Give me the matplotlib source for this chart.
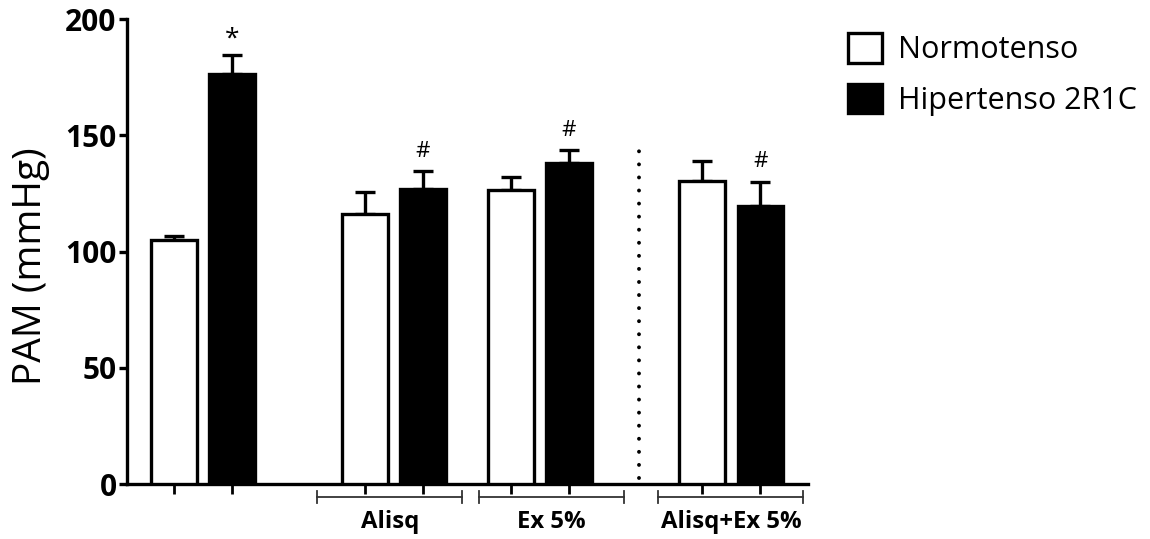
import matplotlib.pyplot as plt
import numpy as np

plt.rcParams['font.family'] = ['Open Sans', 'DejaVu Sans']

# mean arterial pressure per group
groups = ['', 'Alisq', 'Ex 5%', 'Alisq+Ex 5%']
normo = [105, 116, 126.5, 130.5]
normo_err = [1.5, 9.5, 5.5, 8.5]
hiper = [176.5, 127, 138, 119.5]
hiper_err = [8, 7.5, 5.5, 10.5]
marks = ['*', '#', '#', '#']

centers = np.array([1.31, 4.60, 7.12, 10.42])
bracket_mid = [4.53, 7.32, 10.41]
off = 0.5
w = 0.79
lw = 2.4

fig = plt.figure(figsize=(11.5, 5.39), dpi=100)
ax = fig.add_axes([0.1104, 0.102, 0.5922, 0.8627])

ax.bar(centers - off, normo, w, color='white', edgecolor='black', linewidth=lw, zorder=3)
ax.bar(centers + off, hiper, w, color='black', edgecolor='black', linewidth=lw, zorder=3)
ax.errorbar(centers - off, normo, yerr=[np.zeros(4), normo_err], fmt='none', ecolor='black',
            elinewidth=lw, capsize=7.5, capthick=lw, zorder=2)
ax.errorbar(centers + off, hiper, yerr=[np.zeros(4), hiper_err], fmt='none', ecolor='black',
            elinewidth=lw, capsize=7.5, capthick=lw, zorder=2)

# significance marks above the hypertensive bars
for x, v, e, m in zip(centers + off, hiper, hiper_err, marks):
    if m == '*':
        ax.text(x, v + e + 1.5, m, ha='center', va='bottom', fontsize=19)
    else:
        ax.text(x, v + e + 4, m, ha='center', va='bottom', fontsize=16)

# dotted separator before the combined treatment
ax.plot([8.83, 8.83], [2.5, 144], color='black', lw=2.8, linestyle=(0, (0.01, 3.35)),
        dash_capstyle='round', clip_on=False)

ax.set_xlim(0, 11.74)
ax.set_ylim(0, 200)
ax.set_yticks([0, 50, 100, 150, 200])
ax.set_xticks(np.concatenate([centers - off, centers + off]))
ax.set_xticklabels([])
ax.tick_params(axis='y', length=6, width=lw, labelsize=21.5, pad=1.5)
ax.tick_params(axis='x', length=7, width=2)
for t in ax.get_yticklabels():
    t.set_fontweight('bold')
ax.spines['top'].set_visible(False)
ax.spines['right'].set_visible(False)
ax.spines['left'].set_linewidth(lw)
ax.spines['bottom'].set_linewidth(lw)
ax.set_ylabel('PAM (mmHg)', fontsize=28)
ax.yaxis.set_label_coords(-0.113, 0.469)

# group brackets below the axis
by = -5.6
for c, g in zip(bracket_mid, groups[1:]):
    ax.plot([c - 1.25, c + 1.25], [by, by], color='#333333', lw=1.3, clip_on=False)
    for e in (c - 1.25, c + 1.25):
        ax.plot([e, e], [by - 2.6, by + 2.6], color='#333333', lw=1.3, clip_on=False)
    ax.text(c, -16.5, g, ha='center', va='center', fontsize=17.2, fontweight='bold')

# legend
h1 = plt.Rectangle((0, 0), 1, 1, facecolor='white', edgecolor='black', linewidth=lw)
h2 = plt.Rectangle((0, 0), 1, 1, facecolor='black', edgecolor='black', linewidth=lw)
fig.legend([h1, h2], ['Normotenso', 'Hipertenso 2R1C'], loc='upper left',
           bbox_to_anchor=(0.7135, 0.989), frameon=False, fontsize=22,
           handlelength=1.1, handleheight=1.1, handletextpad=0.55, labelspacing=0.6)

fig.savefig('out.png', dpi=100)
